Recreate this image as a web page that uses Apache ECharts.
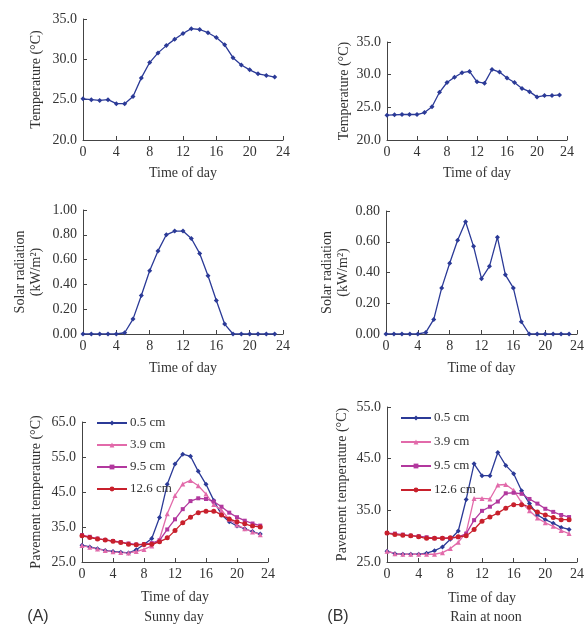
<!DOCTYPE html>
<html>
<head>
<meta charset="utf-8">
<script src="https://cdn.jsdelivr.net/npm/echarts@6/dist/echarts.min.js"></script>
<style>
  html, body { margin: 0; padding: 0; background: #fff; }
  #chart { width: 587px; height: 625px; }
</style>
</head>
<body>
<div id="chart"></div>
<script>
const hours = [0, 1, 2, 3, 4, 5, 6, 7, 8, 9, 10, 11, 12, 13, 14, 15, 16, 17, 18, 19, 20, 21, 22, 23];
const depths = ['0.5 cm', '3.9 cm', '9.5 cm', '12.6 cm'];

// air temperature (°C)
const airTempSunny = [25.1, 25.0, 24.9, 25.0, 24.5, 24.5, 25.4, 27.7, 29.6, 30.8, 31.7, 32.5, 33.2, 33.8, 33.7, 33.3, 32.7, 31.8, 30.2, 29.3, 28.7, 28.2, 28.0, 27.8];
const airTempRain = [23.8, 23.85, 23.9, 23.9, 23.9, 24.2, 25.1, 27.3, 28.8, 29.6, 30.3, 30.5, 28.9, 28.7, 30.8, 30.4, 29.5, 28.8, 27.9, 27.4, 26.6, 26.8, 26.8, 26.9];

// solar radiation (kW/m2)
const solarSunny = [0, 0, 0, 0, 0, 0.01, 0.12, 0.31, 0.51, 0.67, 0.80, 0.83, 0.83, 0.77, 0.65, 0.47, 0.27, 0.08, 0, 0, 0, 0, 0, 0];
const solarRain = [0, 0, 0, 0, 0, 0.01, 0.095, 0.30, 0.46, 0.61, 0.73, 0.57, 0.36, 0.44, 0.63, 0.385, 0.30, 0.08, 0, 0, 0, 0, 0, 0];

// pavement temperature, sunny day (°C)
const sunny05 = [29.8, 29.3, 28.8, 28.3, 28.0, 27.8, 27.6, 28.5, 30.0, 31.7, 37.7, 47.2, 53.0, 55.8, 55.2, 50.9, 47.2, 42.6, 38.5, 36.5, 35.3, 34.5, 33.7, 33.0];
const sunny39 = [29.7, 29.2, 28.7, 28.3, 27.9, 27.7, 27.6, 28.0, 28.6, 29.6, 31.5, 38.8, 44.0, 47.3, 48.3, 46.8, 44.4, 41.4, 39.8, 37.2, 35.6, 34.5, 33.6, 32.8];
const sunny95 = [32.7, 32.2, 31.7, 31.3, 31.0, 30.7, 30.3, 30.0, 30.1, 30.4, 31.2, 34.3, 37.2, 40.1, 42.4, 43.2, 43.0, 42.3, 40.8, 39.1, 37.8, 36.8, 36.0, 35.4];
const sunny126 = [32.5, 32.0, 31.6, 31.3, 30.9, 30.6, 30.1, 29.9, 30.0, 30.1, 30.8, 31.9, 34.0, 36.2, 37.8, 39.1, 39.5, 39.5, 38.4, 37.3, 36.5, 35.9, 35.3, 35.0];

// pavement temperature, rain at noon (°C)
const rain05 = [27.1, 26.6, 26.5, 26.5, 26.5, 26.7, 27.2, 27.9, 29.4, 31.0, 37.1, 44.0, 41.7, 41.7, 46.2, 43.7, 42.1, 38.8, 36.3, 34.1, 33.2, 32.5, 31.7, 31.3];
const rain39 = [27.1, 26.6, 26.5, 26.5, 26.5, 26.5, 26.5, 26.8, 27.6, 28.8, 30.7, 37.3, 37.3, 37.2, 39.9, 40.0, 38.9, 36.5, 34.9, 33.5, 32.6, 31.9, 31.1, 30.5];
const rain95 = [30.6, 30.5, 30.3, 30.1, 30.0, 29.8, 29.6, 29.6, 29.6, 29.8, 30.5, 33.1, 34.9, 35.7, 36.7, 38.3, 38.4, 38.2, 37.2, 36.3, 35.3, 34.7, 34.1, 33.7];
const rain126 = [30.6, 30.3, 30.2, 30.1, 29.9, 29.6, 29.6, 29.6, 29.7, 29.9, 30.1, 31.3, 32.9, 33.7, 34.5, 35.4, 36.1, 36.1, 35.6, 34.7, 34.1, 33.6, 33.2, 33.2];

const serif = 'Liberation Serif';
const axisColor = '#444';
const textColor = '#333';
const blue = '#2b3a97';
const pink = '#e26aaa';
const purple = '#b2389e';
const red = '#c8202c';

const pairs = (vals) => hours.map((h, i) => [h, vals[i]]);

var myChart = echarts.init(document.getElementById('chart'));

const grids = [
  { left: 83, top: 19, width: 200, height: 121 },
  { left: 387, top: 42, width: 180, height: 98 },
  { left: 83, top: 210, width: 200, height: 124 },
  { left: 386, top: 211, width: 194, height: 123 },
  { left: 82, top: 422, width: 186, height: 140 },
  { left: 387, top: 407, width: 198, height: 155 }
];

const xGaps = [26, 26, 27, 27, 28, 29];

const xAxes = grids.map((g, i) => ({
  type: 'value', gridIndex: i, min: 0, max: 24, interval: 4,
  name: 'Time of day', nameLocation: 'middle', nameGap: xGaps[i],
  nameTextStyle: { fontFamily: serif, fontSize: 14, color: textColor },
  splitLine: { show: false },
  axisLine: { lineStyle: { color: axisColor, width: 1 } },
  axisTick: { inside: true, length: 4, lineStyle: { color: axisColor } },
  axisLabel: { fontFamily: serif, fontSize: 14, color: textColor, margin: 5 }
}));

const yBase = (i, min, max, interval, digits, name, gap) => ({
  type: 'value', gridIndex: i, min: min, max: max, interval: interval,
  name: name, nameLocation: 'middle', nameGap: gap, nameRotate: 90,
  nameTextStyle: { fontFamily: serif, fontSize: 14, color: textColor, lineHeight: 16 },
  splitLine: { show: false },
  axisLine: { show: true, lineStyle: { color: axisColor, width: 1 } },
  axisTick: { inside: true, length: 4, lineStyle: { color: axisColor } },
  axisLabel: { fontFamily: serif, fontSize: 14, color: textColor, margin: 6,
    formatter: (v) => v.toFixed(digits) }
});

const yAxes = [
  yBase(0, 20, 35, 5, 1, 'Temperature (°C)', 39),
  yBase(1, 20, 35, 5, 1, 'Temperature (°C)', 35),
  yBase(2, 0, 1, 0.2, 2, 'Solar radiation\n(kW/m²)', 39),
  yBase(3, 0, 0.8, 0.2, 2, 'Solar radiation\n(kW/m²)', 35),
  yBase(4, 25, 65, 10, 1, 'Pavement temperature (°C)', 38),
  yBase(5, 25, 55, 10, 1, 'Pavement temperature (°C)', 37)
];

const line = (i, name, vals, color, symbol, size, smooth) => ({
  type: 'line', name: name, xAxisIndex: i, yAxisIndex: i,
  data: pairs(vals), smooth: smooth || false,
  symbol: symbol, symbolSize: size, showSymbol: true,
  lineStyle: { color: color, width: 1.3 },
  itemStyle: { color: color },
  emphasis: { disabled: true }
});

const series = [
  line(0, 'air', airTempSunny, blue, 'diamond', 5),
  line(1, 'air', airTempRain, blue, 'diamond', 5),
  line(2, 'solar', solarSunny, blue, 'diamond', 5),
  line(3, 'solar', solarRain, blue, 'diamond', 5),
  line(4, depths[0], sunny05, blue, 'diamond', 5),
  line(4, depths[1], sunny39, pink, 'triangle', 5),
  line(4, depths[2], sunny95, purple, 'rect', 4),
  line(4, depths[3], sunny126, red, 'circle', 5, 0.3),
  line(5, depths[0], rain05, blue, 'diamond', 5),
  line(5, depths[1], rain39, pink, 'triangle', 5),
  line(5, depths[2], rain95, purple, 'rect', 4),
  line(5, depths[3], rain126, red, 'circle', 5, 0.3)
];

const legendBase = (left, top, gap) => ({
  data: depths, orient: 'vertical', left: left, top: top,
  itemWidth: 30, itemHeight: 6, itemGap: gap, selectedMode: false,
  textStyle: { fontFamily: serif, fontSize: 13, color: textColor, lineHeight: 14, padding: [0, 0, 0, -2] }
});

const label = (x, y, text, font, size) => ({
  type: 'text', x: x, y: y,
  style: { text: text, fontFamily: font, fontSize: size, fill: textColor, align: 'center', verticalAlign: 'middle' }
});

myChart.setOption({
  animation: false,
  grid: grids,
  xAxis: xAxes,
  yAxis: yAxes,
  legend: [legendBase(91, 411, 8), legendBase(395, 406, 10)],
  series: series,
  graphic: [
    label(38, 617, '(A)', 'Liberation Sans', 16),
    label(174, 617, 'Sunny day', serif, 14),
    label(338, 617, '(B)', 'Liberation Sans', 16),
    label(486, 617, 'Rain at noon', serif, 14)
  ]
});
</script>
</body>
</html>
